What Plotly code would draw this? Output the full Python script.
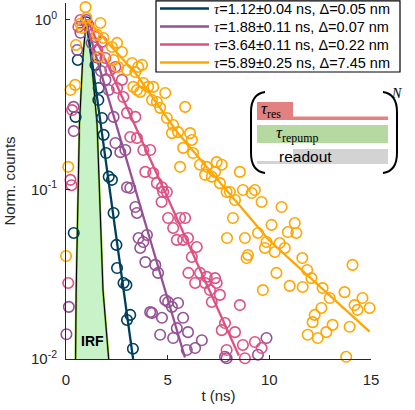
import plotly.graph_objects as go

# ---------------- data ----------------
t1 = [0.38, 0.47, 0.58, 1.00, 1.45, 1.59, 1.61, 1.77, 1.85, 1.97, 2.10, 2.26, 2.34, 2.48, 2.51,
      2.83, 2.97, 3.00, 3.16, 3.29]
y1 = [0.0554, 0.268, 0.581, 0.97, 0.543, 0.337, 0.397, 0.264, 0.210, 0.164, 0.119, 0.114, 0.0727,
      0.0471, 0.0344, 0.0281, 0.0273, 0.0170, 0.0182, 0.0115]

t2 = [0.02, 0.14, 0.37, 0.38, 0.55, 0.71, 1.00, 1.26, 1.50, 1.72, 1.94, 2.10, 2.34, 2.43, 2.67, 2.92,
      3.00, 3.16, 3.41, 3.49, 3.57, 3.65, 3.80, 3.90, 3.98, 4.14, 4.23, 4.39, 4.53, 4.63, 4.72, 4.88,
      5.02, 5.21, 5.27, 5.45, 5.51, 5.76, 5.94, 6.00, 6.35, 6.68, 7.82, 7.90, 9.44, 9.86]
y2 = [0.0140, 0.0203, 0.307, 0.221, 0.665, 0.84, 1.0, 0.73, 0.60, 0.50, 0.443, 0.386, 0.268, 0.188,
      0.166, 0.171, 0.103, 0.102, 0.0788, 0.0727, 0.0517, 0.0452, 0.0490, 0.0373, 0.0539, 0.0189,
      0.0187, 0.0359, 0.0322, 0.0139, 0.0175, 0.0223, 0.0217, 0.0203, 0.0133, 0.0152, 0.0214, 0.0175,
      0.0113, 0.0144, 0.0116, 0.0129, 0.0103, 0.0101, 0.0106, 0.0133]

t3 = [0.11, 0.22, 0.27, 0.30, 0.61, 0.71, 1.10, 1.45, 1.54, 1.77, 1.94, 2.18, 2.43, 2.51, 2.75, 2.82,
      3.00, 3.16, 3.41, 3.49, 3.80, 3.90, 4.14, 4.29, 4.47, 4.70, 4.72, 4.78, 4.96, 5.02, 5.27, 5.45,
      5.61, 5.76, 5.86, 6.00, 6.02, 6.19, 6.35, 6.43, 6.59, 6.84, 6.92, 7.08, 7.17, 7.33, 7.41, 7.57,
      7.66, 7.82, 7.90, 8.31, 8.55, 8.70, 8.80, 9.29, 9.62]
y3 = [0.0281, 0.114, 0.106, 0.294, 0.91, 1.0, 0.934, 0.794, 0.665, 0.742, 0.597, 0.507, 0.528, 0.397,
      0.443, 0.351, 0.283, 0.204, 0.268, 0.201, 0.171, 0.127, 0.171, 0.125, 0.109, 0.0844, 0.103,
      0.0966, 0.0966, 0.0679, 0.0593, 0.0504, 0.0679, 0.0504, 0.0679, 0.0517, 0.0322, 0.040, 0.0281,
      0.0458, 0.0322, 0.0281, 0.0305, 0.0255, 0.0217, 0.030, 0.0281, 0.0239, 0.0148, 0.0163, 0.0113,
      0.0144, 0.0208, 0.0121, 0.0101, 0.0126, 0.0116]

t4 = [0.00, 0.11, 0.22, 0.45, 0.49, 0.71, 0.79, 0.96, 1.00, 1.53, 1.61, 1.69, 1.84, 2.26, 2.33, 2.51,
      2.57, 2.75, 3.00, 3.25, 3.31, 3.41, 3.49, 3.55, 3.65, 3.74, 3.80, 4.04, 4.23, 4.29, 4.47, 4.63,
      4.88, 4.96, 5.21, 5.27, 5.51, 5.61, 5.76, 5.86, 6.10, 6.19, 6.25, 6.59, 6.84, 6.92, 7.17, 7.33,
      7.41, 7.57, 7.66, 7.90, 7.92, 8.06, 8.21, 8.31, 8.55, 8.70, 8.80, 8.88, 8.95, 9.13, 9.29, 9.44,
      9.62, 9.68, 9.78, 9.86, 10.11, 10.27, 10.35, 10.51, 10.60, 10.76, 10.91, 11.00, 11.25, 11.33,
      11.62, 11.64, 11.86, 11.89, 12.07, 12.13, 12.23, 12.38, 12.56, 12.62, 12.80, 12.97, 13.11,
      13.70, 13.78, 13.95, 14.09, 14.19, 14.34, 14.58, 14.93]
y4 = [0.0405, 0.136, 0.386, 0.414, 0.712, 0.95, 0.897, 1.19, 1.03, 0.816, 0.605, 0.96, 0.783, 0.693,
      0.581, 0.732, 0.528, 0.647, 0.507, 0.557, 0.403, 0.493, 0.386, 0.528, 0.376, 0.543, 0.425, 0.403,
      0.337, 0.403, 0.328, 0.303, 0.371, 0.264, 0.215, 0.240, 0.218, 0.136, 0.176, 0.307, 0.215, 0.196,
      0.164, 0.140, 0.122, 0.136, 0.119, 0.127, 0.145, 0.109, 0.140, 0.0966, 0.0517, 0.0966, 0.0679,
      0.0867, 0.127, 0.0993, 0.0517, 0.0394, 0.0411, 0.0953, 0.0993, 0.0554, 0.0844, 0.0255, 0.0452,
      0.049, 0.0618, 0.0428, 0.0322, 0.0483, 0.0788, 0.0452, 0.0561, 0.0270, 0.0634, 0.0554, 0.0394,
      0.0266, 0.0335, 0.0139, 0.030, 0.0165, 0.0182, 0.0133, 0.020, 0.0262, 0.0144, 0.0229, 0.0159,
      0.0248, 0.0103, 0.0155, 0.0359, 0.0208, 0.0195, 0.0229, 0.020]

# fit lines (vertices)
f1_t, f1_y = [1.0, 3.3], [1.0, 0.01]
f2_t, f2_y = [0.95, 5.85], [1.0, 0.0102]
f3_t, f3_y = [1.05, 8.5], [1.0, 0.0105]
f4_t, f4_y = [1.05, 3.45, 5.5, 10.0, 14.93], [1.0, 0.48, 0.215, 0.05, 0.0145]

# instrument response function
irf_t = [0.47, 0.50, 0.66, 0.82, 1.0, 1.25, 1.53, 1.82, 2.10]
irf_y = [0.01, 0.0254, 0.24, 0.58, 1.0, 0.58, 0.24, 0.0254, 0.01]

legend_labels = ["=1.12±0.04 ns, Δ=0.05 nm", "=1.88±0.11 ns, Δ=0.07 nm",
                 "=3.64±0.11 ns, Δ=0.22 nm", "=5.89±0.25 ns, Δ=7.45 nm"]
colors = ["#003f5c", "#955196", "#dd5182", "#ffa600"]

x_ticks = [0, 5, 10, 15]
y_ticks = [0.01, 0.1, 1]
y_ticktext = ["10<sup>-2</sup>", "10<sup>-1</sup>", "10<sup>0</sup>"]

# ---------------- figure ----------------
W, H = 415, 410
ML, MR, MT, MB = 66, 44, 3, 51
PW, PH = W - ML - MR, H - MT - MB


def px(x):
    return (x - ML) / PW


def py(y):
    return (MT + PH - y) / PH


SANS = "Liberation Sans"
SERIF = "Liberation Serif"

fig = go.Figure()

fig.add_trace(go.Scatter(x=irf_t, y=irf_y, mode="lines", fill="toself",
                         fillcolor="#c8f2c8", line=dict(color="#8cc63f", width=2.2),
                         showlegend=False, hoverinfo="skip"))
fig.add_trace(go.Scatter(x=irf_t, y=irf_y, mode="lines",
                         line=dict(color="black", width=1.1), showlegend=False, hoverinfo="skip"))

series = [(t1, y1, f1_t, f1_y), (t2, y2, f2_t, f2_y), (t3, y3, f3_t, f3_y), (t4, y4, f4_t, f4_y)]
for (tt, yy, ft, fy), c in zip(series, colors):
    fig.add_trace(go.Scatter(x=tt, y=yy, mode="markers", cliponaxis=False, showlegend=False,
                             marker=dict(symbol="circle-open", size=10.5, color=c,
                                         line=dict(width=1.6, color=c))))
    fig.add_trace(go.Scatter(x=ft, y=fy, mode="lines", cliponaxis=False, showlegend=False,
                             line=dict(color=c, width=2.3)))

shapes = []
annotations = []

# legend box (manual, MATLAB style)
shapes.append(dict(type="rect", xref="paper", yref="paper", x0=px(156), x1=px(400),
                   y0=py(72), y1=py(0.8), line=dict(color="black", width=1.2),
                   fillcolor="white", layer="above"))
rows = [8.5, 26.5, 44.5, 62.5]
for r, c, lab in zip(rows, colors, legend_labels):
    shapes.append(dict(type="line", xref="paper", yref="paper", x0=px(160), x1=px(209),
                       y0=py(r), y1=py(r), line=dict(color=c, width=2.3), layer="above"))
    annotations.append(dict(xref="paper", yref="paper", x=px(212), y=py(r), xanchor="left",
                            yanchor="middle", showarrow=False,
                            text=f'<span style="font-family:{SERIF}"><i>τ</i></span>' + lab,
                            font=dict(family=SANS, size=14.5, color="black")))

# inset pulse sequence
red, green, grey = "#e38080", "#b5d9a1", "#d3d3d3"
shapes += [
    dict(type="rect", xref="paper", yref="paper", x0=px(257), x1=px(293), y0=py(120), y1=py(102),
         fillcolor=red, line=dict(width=0), layer="above"),
    dict(type="rect", xref="paper", yref="paper", x0=px(293), x1=px(388), y0=py(120), y1=py(116.5),
         fillcolor=red, line=dict(width=0), layer="above"),
    dict(type="rect", xref="paper", yref="paper", x0=px(257), x1=px(388), y0=py(143), y1=py(125),
         fillcolor=green, line=dict(width=0), layer="above"),
    dict(type="rect", xref="paper", yref="paper", x0=px(257), x1=px(293), y0=py(164), y1=py(161),
         fillcolor=grey, line=dict(width=0), layer="above"),
    dict(type="rect", xref="paper", yref="paper", x0=px(293), x1=px(388), y0=py(164), y1=py(149),
         fillcolor=grey, line=dict(width=0), layer="above"),
]


def pp(x, y):
    return f"{px(x):.4f},{py(y):.4f}"


lpath = (f"M{pp(265, 92)} Q{pp(251, 94)} {pp(251, 112)} L{pp(251, 153)} "
         f"Q{pp(251, 171)} {pp(265, 173)}")
rpath = (f"M{pp(383, 92)} Q{pp(397, 94)} {pp(397, 112)} L{pp(397, 153)} "
         f"Q{pp(397, 171)} {pp(383, 173)}")
for p in (lpath, rpath):
    shapes.append(dict(type="path", xref="paper", yref="paper", path=p,
                       line=dict(color="black", width=2), layer="above"))

annotations += [
    dict(xref="paper", yref="paper", x=px(259), y=py(110), xanchor="left", yanchor="middle",
         showarrow=False, text="<i>τ</i><sub>res</sub>",
         font=dict(family=SERIF, size=17, color="black")),
    dict(xref="paper", yref="paper", x=px(320), y=py(134), showarrow=False,
         text="<i>τ</i><sub>repump</sub>", font=dict(family=SERIF, size=17, color="black")),
    dict(xref="paper", yref="paper", x=px(334), y=py(156), showarrow=False,
         text="readout", font=dict(family=SANS, size=15.5, color="black")),
    dict(xref="paper", yref="paper", x=px(404), y=py(84), showarrow=False,
         text="<i>N</i>", font=dict(family=SERIF, size=14, color="black")),
    dict(xref="x", yref="y", x=1.28, y=-1.894, showarrow=False,
         text="<b>IRF</b>", font=dict(family=SANS, size=14, color="black")),
]

fig.update_layout(
    width=W, height=H, margin=dict(l=ML, r=MR, t=MT, b=MB, autoexpand=False),
    plot_bgcolor="white", paper_bgcolor="white",
    font=dict(family=SANS, size=15, color="#262626"),
    shapes=shapes, annotations=annotations, showlegend=False,
    xaxis=dict(range=[0, 15], tickvals=x_ticks, showgrid=False, zeroline=False,
               showline=True, linecolor="#262626", linewidth=1, ticks="inside", ticklen=4,
               tickcolor="#262626", ticklabelstandoff=7,
               title=dict(text="t (ns)", standoff=3, font=dict(size=15))),
    yaxis=dict(type="log", range=[-2, 0.1], tickvals=y_ticks, ticktext=y_ticktext,
               showgrid=False, zeroline=False, showline=True, linecolor="#262626", linewidth=1,
               ticks="inside", ticklen=4, tickcolor="#262626", ticklabelstandoff=5,
               title=dict(text="Norm. counts", standoff=11, font=dict(size=15))),
)

fig.write_html("out.html", config={"displayModeBar": False},
               post_script="document.body.style.margin='0px';document.body.style.padding='0px';"
                           "document.documentElement.style.overflow='hidden';")
